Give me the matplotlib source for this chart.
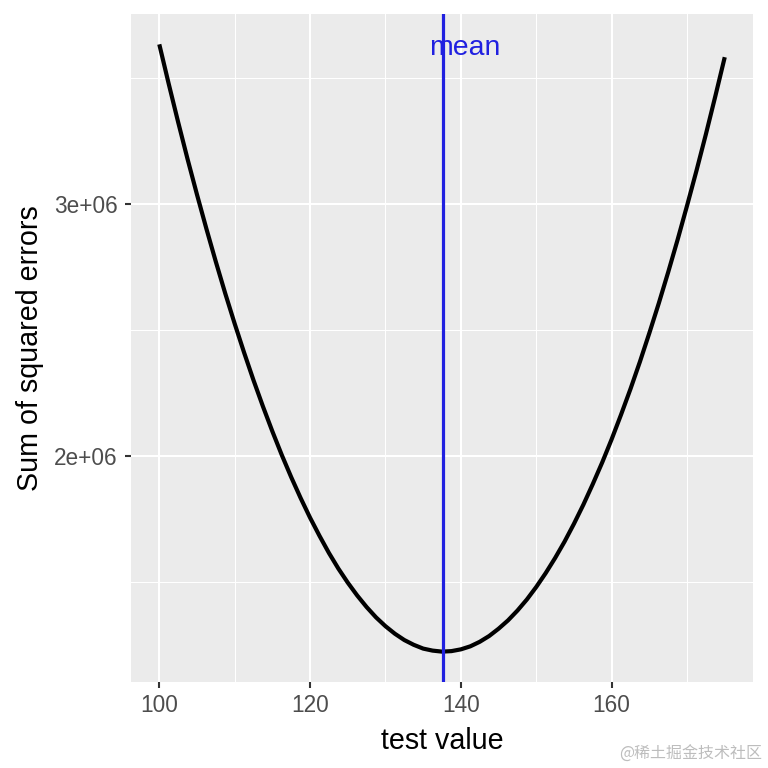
import matplotlib
matplotlib.use('Agg')
import matplotlib.pyplot as plt
import numpy as np

# test values and the sum of squared errors
test_value = [100, 101.25, 102.5, 103.75, 105, 106.25, 107.5, 108.75, 110, 111.25,
              112.5, 113.75, 115, 116.25, 117.5, 118.75, 120, 121.25, 122.5, 123.75,
              125, 126.25, 127.5, 128.75, 130, 131.25, 132.5, 133.75, 135, 136.25,
              137.5, 138.75, 140, 141.25, 142.5, 143.75, 145, 146.25, 147.5, 148.75,
              150, 151.25, 152.5, 153.75, 155, 156.25, 157.5, 158.75, 160, 161.25,
              162.5, 163.75, 165, 166.25, 167.5, 168.75, 170, 171.25, 172.5, 173.75, 175]
sse = [3.635e6, 3.478e6, 3.326e6, 3.179e6, 3.038e6, 2.902e6, 2.771e6, 2.645e6,
       2.525e6, 2.410e6, 2.300e6, 2.196e6, 2.097e6, 2.003e6, 1.915e6, 1.832e6,
       1.754e6, 1.682e6, 1.614e6, 1.552e6, 1.496e6, 1.445e6, 1.399e6, 1.358e6,
       1.323e6, 1.293e6, 1.268e6, 1.249e6, 1.234e6, 1.226e6, 1.222e6, 1.224e6,
       1.231e6, 1.243e6, 1.261e6, 1.284e6, 1.313e6, 1.346e6, 1.385e6, 1.429e6,
       1.479e6, 1.534e6, 1.594e6, 1.659e6, 1.730e6, 1.806e6, 1.888e6, 1.974e6,
       2.066e6, 2.164e6, 2.266e6, 2.374e6, 2.488e6, 2.606e6, 2.730e6, 2.859e6,
       2.994e6, 3.133e6, 3.278e6, 3.429e6, 3.584e6]
mean_value = 137.6
mean_label = 'mean'
x_ticks = [100, 120, 140, 160]
y_ticks = [2e6, 3e6]
y_tick_labels = ['2e+06', '3e+06']

plt.rcParams['font.family'] = ['Liberation Sans', 'DejaVu Sans']

fig = plt.figure(figsize=(7.68, 7.68), dpi=100)
ax = fig.add_axes([0.1706, 0.112, 0.8099, 0.8698])
ax.set_facecolor('#EBEBEB')
for s in ax.spines.values():
    s.set_visible(False)

# grid like ggplot theme_gray
ax.set_xticks(x_ticks)
ax.set_xticks([110, 130, 150, 170], minor=True)
ax.set_yticks(y_ticks)
ax.set_yticks([1.5e6, 2.5e6, 3.5e6], minor=True)
ax.set_yticklabels(y_tick_labels)
ax.grid(which='major', color='white', linewidth=1.5)
ax.grid(which='minor', color='white', linewidth=0.75)
ax.set_axisbelow(True)

ax.plot(test_value, sse, color='black', linewidth=3.0, solid_capstyle='butt', zorder=3)
ax.axvline(mean_value, color='#2020E0', linewidth=2.3, zorder=4)
ax.text(mean_value + 2.9, 3.62e6, mean_label, color='#2020E0', fontsize=20.4,
        ha='center', va='center', zorder=5)

pad_x = (max(test_value) - min(test_value)) * 0.05
pad_y = (max(sse) - min(sse)) * 0.05
ax.set_xlim(min(test_value) - pad_x, max(test_value) + pad_x)
ax.set_ylim(min(sse) - pad_y, max(sse) + pad_y)

ax.tick_params(which='major', length=4.5, width=1.5, color='#333333',
               labelsize=16.3, labelcolor='#4D4D4D')
ax.tick_params(axis='x', which='major', pad=4)
ax.tick_params(axis='y', which='major', pad=5)
ax.tick_params(which='minor', length=0)
ax.set_xlabel('test value', fontsize=20.6, color='black', labelpad=7)
ax.set_ylabel('Sum of squared errors', fontsize=20.6, color='black', labelpad=7)

fig.text(0.993, 0.018, '@稀土掘金技术社区', color='#BDBDBD', fontsize=11.5,
         ha='right', va='center', family=['Noto Sans CJK SC', 'DejaVu Sans'])

fig.savefig('out.png', dpi=100)
